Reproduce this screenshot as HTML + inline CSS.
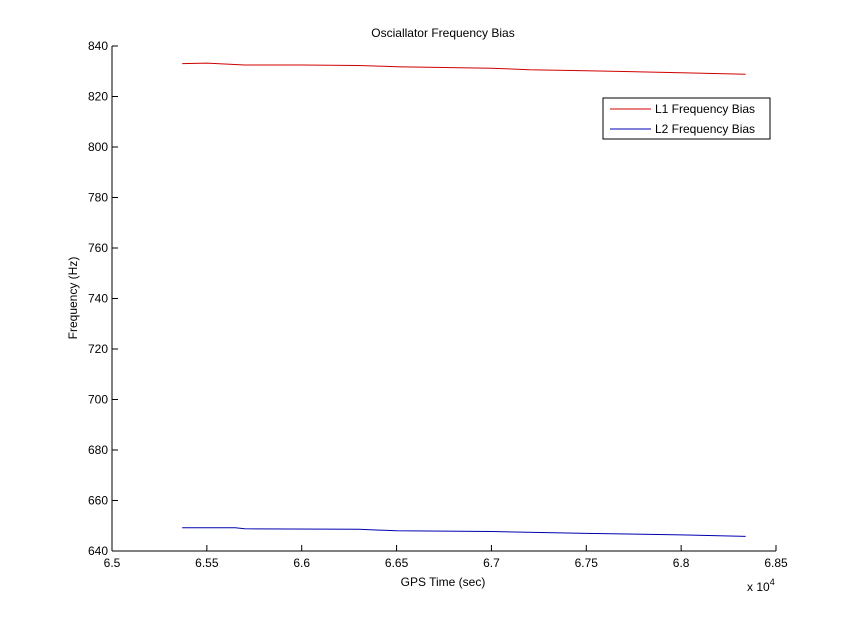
<!DOCTYPE html>
<html><head><meta charset="utf-8"><style>
body{margin:0;background:#fff;}
svg text{font-family:"Liberation Sans",sans-serif;font-size:12px;fill:#000;}
</style></head><body>
<svg id="chart" width="859" height="620" xmlns="http://www.w3.org/2000/svg">
<rect width="859" height="620" fill="#fff"/>
<text x="443" y="37" text-anchor="middle">Osciallator Frequency Bias</text>
<g id="axes"></g>
<g id="series"></g>
<text x="443" y="586" text-anchor="middle">GPS Time (sec)</text>
<text transform="translate(77,298) rotate(-90)" text-anchor="middle">Frequency (Hz)</text>
<text x="747" y="591">x 10<tspan dy="-6" font-size="9">4</tspan></text>
<g>
<rect x="603" y="98" width="167" height="41" fill="#fff" stroke="#000"/>
<line x1="610" y1="109" x2="651" y2="109" stroke="#d00000"/>
<text x="655" y="113">L1 Frequency Bias</text>
<line x1="610" y1="129" x2="651" y2="129" stroke="#0000b0"/>
<text x="655" y="133">L2 Frequency Bias</text>
</g>
</svg>
<script>
const xTicks=[6.5,6.55,6.6,6.65,6.7,6.75,6.8,6.85];
const yTicks=[640,660,680,700,720,740,760,780,800,820,840];
const l1X=[6.537,6.55,6.57,6.6,6.63,6.65,6.7,6.72,6.75,6.8,6.834];
const l1Y=[833,833.2,832.5,832.5,832.3,831.8,831.2,830.6,830.2,829.4,828.8];
const l2X=[6.537,6.565,6.57,6.63,6.65,6.7,6.75,6.8,6.834];
const l2Y=[649.2,649.2,648.8,648.6,648.0,647.7,647.0,646.4,645.8];
const X0=112,X1=776,Y0=551,Y1=46;
const sx=v=>X0+(v-6.5)/(0.35)*(X1-X0);
const sy=v=>Y0-(v-640)/200*(Y0-Y1);
const NS="http://www.w3.org/2000/svg";
const axes=document.getElementById('axes');
function mk(tag,attrs,parent){const e=document.createElementNS(NS,tag);for(const k in attrs)e.setAttribute(k,attrs[k]);parent.appendChild(e);return e;}
const xa=mk('line',{x1:X0,y1:Y0,x2:X1,y2:Y0,stroke:'#000'},axes);


const ya=mk('line',{x1:X0,y1:Y0,x2:X0,y2:Y1,stroke:'#000'},axes);


xTicks.forEach(t=>{
 const x=sx(t);
 const l=mk('line',{x1:x,y1:Y0,x2:x,y2:Y0-6,stroke:'#000'},axes);
 
 
 const tx=mk('text',{x:x,y:Y0+16,'text-anchor':'middle'},axes);
 tx.textContent=String(t);
 
 
});
yTicks.forEach(t=>{
 const y=sy(t);
 const l=mk('line',{x1:X0,y1:y,x2:X0+6,y2:y,stroke:'#000'},axes);
 
 
 const tx=mk('text',{x:X0-4,y:y+4,'text-anchor':'end'},axes);
 tx.textContent=String(t);
 
 
});
const series=document.getElementById('series');
function line(xs,ys,color,name){
 const p=mk('polyline',{points:xs.map((v,i)=>sx(v)+','+sy(ys[i])).join(' '),fill:'none',stroke:color,'stroke-width':1},series);
 
 
}
line(l1X,l1Y,'#d00000','l1-frequency-bias-line');
line(l2X,l2Y,'#0000b0','l2-frequency-bias-line');
</script>
</body></html>
